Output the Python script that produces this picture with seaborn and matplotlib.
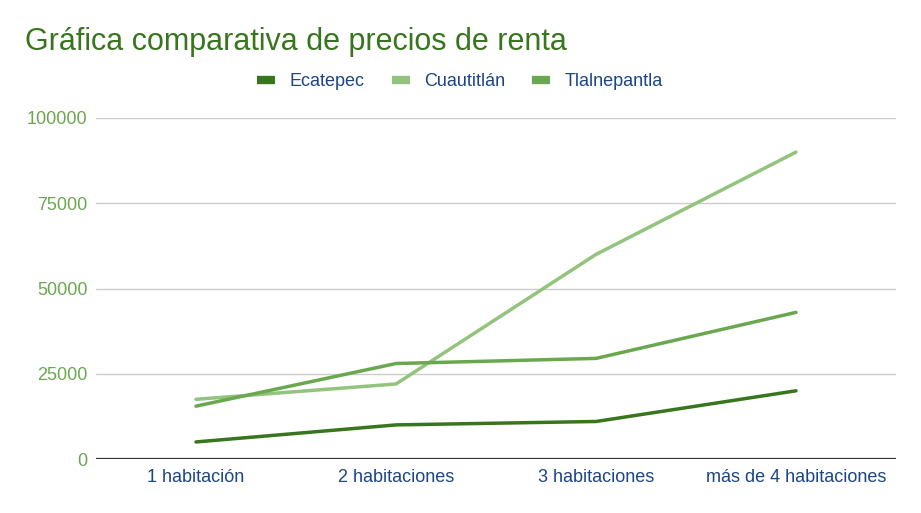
import matplotlib.pyplot as plt
import pandas as pd
import seaborn as sns

# datos
categorias = ['1 habitación', '2 habitaciones', '3 habitaciones', 'más de 4 habitaciones']
ecatepec = [5000, 10000, 11000, 20000]
cuautitlan = [17500, 22000, 60000, 90000]
tlalnepantla = [15500, 28000, 29500, 43000]
series = ['Ecatepec', 'Cuautitlán', 'Tlalnepantla']
colores = ['#38761d', '#93c47d', '#6aa84f']

df = pd.DataFrame({
    'cat': categorias * 3,
    'precio': ecatepec + cuautitlan + tlalnepantla,
    'ciudad': [s for s in series for _ in categorias],
})

sns.set_theme(style='white')
plt.rcParams['font.family'] = ['Liberation Sans', 'DejaVu Sans']

fig = plt.figure(figsize=(9.21, 5.13), dpi=100)
ax = fig.add_axes([96 / 921, 1 - 459 / 513, 800 / 921, 341 / 513])

sns.lineplot(data=df, x='cat', y='precio', hue='ciudad', palette=colores,
             linewidth=2.5, sort=False, ax=ax, legend=False)

ax.set_xlim(-0.5, 3.5)
ax.set_ylim(0, 100000)
ax.set_yticks([0, 25000, 50000, 75000, 100000])
ax.set_yticklabels(['0', '25000', '50000', '75000', '100000'])
ax.yaxis.grid(True, color='#cccccc', linewidth=1)
ax.axhline(0, color='#333333', linewidth=1.6, zorder=3)
for s in ax.spines.values():
    s.set_visible(False)
ax.tick_params(axis='y', colors='#6aa84f', labelsize=13, length=0, pad=6)
ax.tick_params(axis='x', colors='#1c4587', labelsize=13, length=0, pad=7)
ax.set_xlabel('')
ax.set_ylabel('')

fig.text(25 / 921, 1 - 42 / 513, 'Gráfica comparativa de precios de renta',
         fontsize=22, color='#38761d', va='center', ha='left')

handles = [plt.Line2D([], [], color=c, linewidth=6, solid_capstyle='butt') for c in colores]
fig.legend(handles, series, loc='center', bbox_to_anchor=(460 / 921, 1 - 82 / 513),
           ncol=3, frameon=False, fontsize=13, handlelength=1.0, handletextpad=0.8,
           columnspacing=1.5, labelcolor='#1c4587')

fig.savefig('out.png', dpi=100)
